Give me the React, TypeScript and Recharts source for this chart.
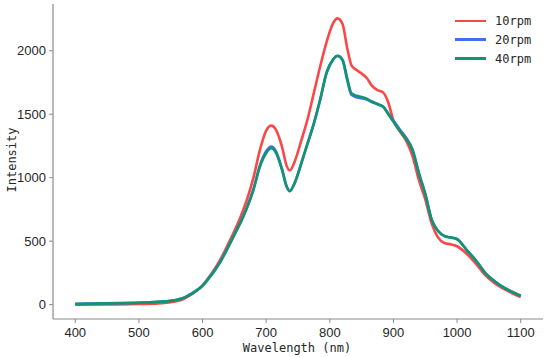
import React from 'react';
import { LineChart, Line, XAxis, YAxis } from 'recharts';

const wavelengths = [
  400, 450, 500, 530, 550, 560, 570, 580, 590, 600, 610, 620, 630, 640, 650, 660, 670, 680, 690, 700,
  708, 715, 725, 732, 737, 745, 755, 765, 775, 785, 795, 805, 812, 820, 827, 834, 842, 850, 858, 866,
  875, 884, 892, 900, 910, 920, 930, 940, 950, 960, 970, 980, 990, 1000, 1015, 1030, 1045, 1060, 1075, 1090, 1100,
];

const rpm10 = [
  0, 2, 5, 10, 20, 28, 45, 72, 108, 152, 215, 290, 375, 475, 580, 695, 830, 1000, 1215, 1370,
  1410, 1380, 1240, 1095, 1058, 1130, 1290, 1460, 1670, 1880, 2070, 2215, 2255, 2210, 2030, 1885, 1848, 1820, 1785, 1725,
  1690, 1670, 1590, 1450, 1365, 1290, 1170, 980, 830, 640, 530, 485, 475, 460, 400, 320, 228, 165, 120, 82, 60,
];

const rpm20 = [
  6, 11, 16, 23, 31, 39, 53, 80, 110, 150, 210, 277, 357, 452, 552, 652, 768, 910, 1095, 1208,
  1246, 1212, 1068, 935, 896, 962, 1110, 1268, 1426, 1616, 1826, 1928, 1958, 1924, 1776, 1652, 1634, 1626, 1616, 1596,
  1578, 1558, 1506, 1450, 1380, 1314, 1222, 1038, 874, 672, 582, 542, 530, 517, 432, 346, 246, 181, 131, 93, 71,
];

const rpm40 = [
  5, 10, 15, 22, 30, 38, 52, 78, 108, 148, 208, 275, 355, 450, 550, 650, 765, 905, 1085, 1195,
  1232, 1200, 1060, 930, 893, 960, 1110, 1270, 1430, 1620, 1830, 1930, 1960, 1930, 1790, 1665, 1645, 1635, 1622, 1600,
  1580, 1558, 1500, 1440, 1370, 1305, 1215, 1030, 870, 670, 580, 540, 528, 515, 430, 345, 245, 180, 130, 92, 70,
];

const xTicks = [400, 500, 600, 700, 800, 900, 1000, 1100];
const yTicks = [0, 500, 1000, 1500, 2000];
const seriesKeys = ['r10', 'r20', 'r40'];
const seriesNames = ['10rpm', '20rpm', '40rpm'];
const seriesColors = ['#F94848', '#4170EE', '#12956F'];

const data = wavelengths.map((wl, i) => ({ wl, r10: rpm10[i], r20: rpm20[i], r40: rpm40[i] }));

const axisColor = '#8a8a8a';
const tickStyle = { fontFamily: '"Liberation Sans", Arial, sans-serif', fontSize: 13, fill: '#262626' };
const titleFont = '"DejaVu Sans Mono", monospace';

export default function App() {
  return (
    <div style={{ position: 'absolute', left: 0, top: 0, width: 550, height: 357, background: '#fff' }}>
      <LineChart width={550} height={357} data={data} margin={{ top: 4, right: 7, bottom: 0, left: 0 }}>
        <XAxis
          dataKey="wl"
          type="number"
          domain={[365, 1135]}
          ticks={xTicks}
          height={38}
          stroke={axisColor}
          tickSize={4}
          tickMargin={5}
          tick={tickStyle}
          tickLine={{ stroke: axisColor }}
          axisLine={{ stroke: axisColor, strokeWidth: 1.2 }}
          label={{
            content: () => (
              <text x={297} y={348} textAnchor="middle" dominantBaseline="central" fontFamily={titleFont} fontSize={12} fill="#262626">
                Wavelength (nm)
              </text>
            ),
          }}
        />
        <YAxis
          type="number"
          domain={[-113, 2368]}
          ticks={yTicks}
          width={53}
          stroke={axisColor}
          tickSize={4}
          tickMargin={3}
          tick={tickStyle}
          tickLine={{ stroke: axisColor }}
          axisLine={{ stroke: axisColor, strokeWidth: 1.2 }}
          allowDataOverflow
          label={{
            content: () => (
              <text x={12} y={160} transform="rotate(-90 12 160)" textAnchor="middle" dominantBaseline="central" fontFamily={titleFont} fontSize={12} fill="#262626">
                Intensity
              </text>
            ),
          }}
        />
        {seriesKeys.map((k, i) => (
          <Line
            key={k}
            dataKey={k}
            name={seriesNames[i]}
            type="monotone"
            stroke={seriesColors[i]}
            strokeWidth={2.6}
            dot={false}
            activeDot={false}
            isAnimationActive={false}
          />
        ))}
      </LineChart>
      <div style={{ position: 'absolute', left: 455, top: 11.6, width: 95 }}>
        {seriesNames.map((n, i) => (
          <div key={n} style={{ display: 'flex', alignItems: 'center', height: 18.8 }}>
            <div style={{ width: 31, height: 2.6, background: seriesColors[i] }} />
            <span style={{ marginLeft: 9, fontFamily: titleFont, fontSize: 12, color: '#262626' }}>{n}</span>
          </div>
        ))}
      </div>
    </div>
  );
}
